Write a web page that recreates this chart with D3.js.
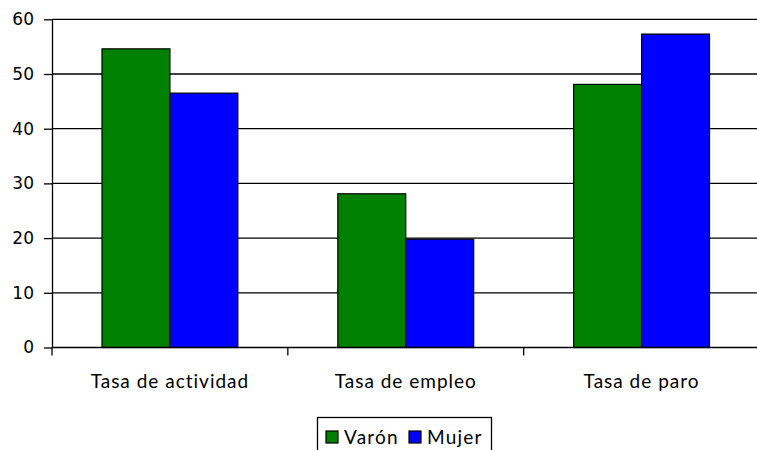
<!DOCTYPE html>
<meta charset="utf-8">
<style>
    body { margin: 0; background: #fff; }
    .grid line { stroke: #000; stroke-width: 1.3; }
    .axis path, .axis line { stroke: #000; stroke-width: 1.3; }
    .axis--y text { font-family: "DejaVu Sans", sans-serif; font-size: 17px; fill: #000; }
    .axis--x text { font-family: Lato, sans-serif; font-size: 19px; letter-spacing: 1px; fill: #000; }
    .bar { stroke: #000; stroke-width: 1.2; }
    .legend text { font-family: Lato, sans-serif; font-size: 19px; letter-spacing: 1.2px; fill: #000; }
</style>
<svg width="757" height="450"></svg>
<script src="https://d3js.org/d3.v7.min.js"></script>
<script>

    var categories = ["Tasa de actividad", "Tasa de empleo", "Tasa de paro"];
    var series = ["Varón", "Mujer"];
    var colors = ["#008000", "#0000ff"];
    var varon = [54.6, 28.1, 48.1];
    var mujer = [46.5, 19.8, 57.3];
    var yTicks = [0, 10, 20, 30, 40, 50, 60];

    var svg = d3.select("svg"),
        plotLeft = 52, plotRight = 759.5, plotTop = 19.3, plotBottom = 347.5;

    var x0 = d3.scaleBand().domain(categories).range([plotLeft, plotRight]).paddingInner(0).paddingOuter(0);
    var bw = x0.bandwidth();
    var x1 = d3.scaleBand().domain(series).range([bw * 0.212, bw * 0.788]);
    var y = d3.scaleLinear().domain([0, 60]).range([plotBottom, plotTop]);

    // gridlines
    svg.append("g")
        .attr("class", "grid")
        .selectAll("line")
        .data(yTicks.filter(function(d) { return d > 0; }))
        .enter().append("line")
        .attr("x1", plotLeft).attr("x2", plotRight + 10)
        .attr("y1", function(d) { return y(d); })
        .attr("y2", function(d) { return y(d); });

    var data = categories.map(function(c, i) {
        return {cat: c, values: [{s: series[0], v: varon[i]}, {s: series[1], v: mujer[i]}]};
    });

    svg.append("g").selectAll("g")
        .data(data)
        .enter().append("g")
        .attr("transform", function(d) { return "translate(" + x0(d.cat) + ",0)"; })
        .selectAll("rect")
        .data(function(d) { return d.values; })
        .enter().append("rect")
        .attr("class", "bar")
        .attr("x", function(d) { return x1(d.s); })
        .attr("width", x1.bandwidth())
        .attr("y", function(d) { return y(d.v); })
        .attr("height", function(d) { return plotBottom - y(d.v); })
        .attr("fill", function(d, i) { return colors[i]; });

    // y axis
    svg.append("g")
        .attr("class", "axis axis--y")
        .attr("transform", "translate(" + plotLeft + ",0)")
        .call(d3.axisLeft(y).tickValues(yTicks).tickSize(8).tickSizeOuter(0).tickPadding(10));

    // x axis: ticks at band boundaries
    var xa = svg.append("g")
        .attr("class", "axis axis--x")
        .attr("transform", "translate(0," + plotBottom + ")");
    xa.append("line").attr("x1", plotLeft).attr("x2", plotRight + 10).attr("y1", 0).attr("y2", 0);
    xa.selectAll(".tk")
        .data(categories)
        .enter().append("line")
        .attr("x1", function(d) { return x0(d) + bw; })
        .attr("x2", function(d) { return x0(d) + bw; })
        .attr("y1", 0).attr("y2", 8);
    xa.append("line").attr("x1", plotLeft).attr("x2", plotLeft).attr("y1", 0).attr("y2", 8);
    xa.selectAll("text")
        .data(categories)
        .enter().append("text")
        .attr("x", function(d) { return x0(d) + bw / 2; })
        .attr("y", 40)
        .attr("text-anchor", "middle")
        .text(function(d) { return d; });

    // legend
    var lg = svg.append("g").attr("class", "legend");
    lg.append("rect")
        .attr("x", 317.5).attr("y", 417.5).attr("width", 174).attr("height", 40)
        .attr("fill", "#fff").attr("stroke", "#000").attr("stroke-width", 1.3);
    var lx = [326, 409];
    series.forEach(function(s, i) {
        lg.append("rect")
            .attr("x", lx[i]).attr("y", 431).attr("width", 12).attr("height", 12)
            .attr("fill", colors[i]).attr("stroke", "#000").attr("stroke-width", 1.2);
        lg.append("text")
            .attr("x", lx[i] + 18).attr("y", 444)
            .text(s);
    });
</script>
